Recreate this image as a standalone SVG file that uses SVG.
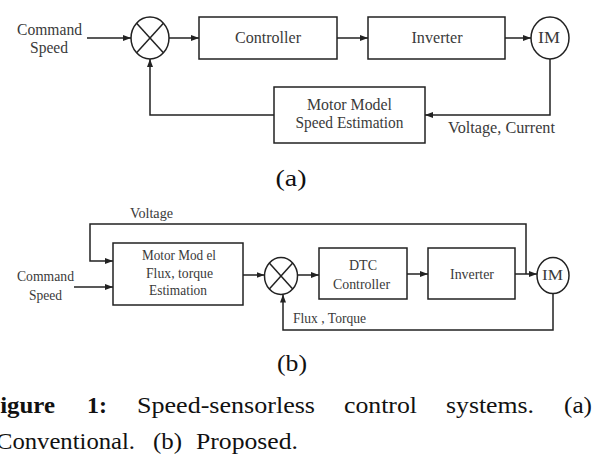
<svg xmlns="http://www.w3.org/2000/svg" width="592" height="458" viewBox="0 0 592 458" font-family="'Liberation Serif', 'Times New Roman', serif">
<defs>
<marker id="arr" markerWidth="9" markerHeight="7" refX="8" refY="3" orient="auto" markerUnits="userSpaceOnUse">
<path d="M0,0 L8,3 L0,6 z" fill="#222"/>
</marker>
<style>
.box{fill:#fff;stroke:#222;stroke-width:1.5}
.ln{fill:none;stroke:#222;stroke-width:1.5}
.wire{fill:none;stroke:#222;stroke-width:1.5;marker-end:url(#arr)}
text{fill:#3a3a3a}
.t1{font-size:16px}
.t2{font-size:14px}
.c{text-anchor:middle}
.cap{font-size:24px;fill:#111}
</style>
</defs>
<rect width="592" height="458" fill="#fff"/>

<!-- (a) conventional -->
<g id="a_cmd">
<text class="t1" x="17" y="35" textLength="65" lengthAdjust="spacingAndGlyphs">Command</text>
<text class="t1" x="30" y="53" textLength="38" lengthAdjust="spacingAndGlyphs">Speed</text>
</g>
<g id="a_sum">
<ellipse class="box" cx="150" cy="38" rx="19" ry="21"/>
<line class="ln" x1="136.6" y1="23.2" x2="163.4" y2="52.8"/>
<line class="ln" x1="163.4" y1="23.2" x2="136.6" y2="52.8"/>
</g>
<g id="a_controller">
<rect class="box" x="199" y="17" width="138" height="42"/>
<text class="t1 c" x="268" y="43" textLength="66" lengthAdjust="spacingAndGlyphs">Controller</text>
</g>
<g id="a_inverter">
<rect class="box" x="368" y="17" width="137" height="42"/>
<text class="t1 c" x="437" y="43" textLength="51" lengthAdjust="spacingAndGlyphs">Inverter</text>
</g>
<g id="a_im">
<ellipse class="box" cx="550" cy="38" rx="19" ry="21"/>
<text class="t1 c" x="549" y="43" textLength="22" lengthAdjust="spacingAndGlyphs">IM</text>
</g>
<g id="a_model">
<rect class="box" x="274" y="87" width="151" height="56"/>
<text class="t1 c" x="349.5" y="110" textLength="85" lengthAdjust="spacingAndGlyphs">Motor Model</text>
<text class="t1 c" x="349.5" y="128" textLength="108" lengthAdjust="spacingAndGlyphs">Speed Estimation</text>
</g>
<g id="a_connectors">
<line class="wire" x1="87" y1="38" x2="131" y2="38"/>
<line class="wire" x1="169" y1="38" x2="199" y2="38"/>
<line class="wire" x1="337" y1="38" x2="368" y2="38"/>
<line class="wire" x1="505" y1="38" x2="531" y2="38"/>
<polyline class="wire" points="550,59 550,115 425,115"/>
<polyline class="wire" points="274,115 150,115 150,59"/>
<text class="t1" x="448" y="133" textLength="107" lengthAdjust="spacingAndGlyphs">Voltage, Current</text>
</g>
<text x="291" y="186" font-size="24" class="c" textLength="31" lengthAdjust="spacingAndGlyphs" style="fill:#111">(a)</text>

<!-- (b) proposed -->
<g id="b_cmd">
<text class="t2" x="17" y="281" textLength="57" lengthAdjust="spacingAndGlyphs">Command</text>
<text class="t2" x="29" y="300" textLength="33" lengthAdjust="spacingAndGlyphs">Speed</text>
</g>
<g id="b_model">
<rect class="box" x="113" y="243" width="130" height="62"/>
<text class="t2 c" x="179" y="260" textLength="74" lengthAdjust="spacingAndGlyphs">Motor Mod el</text>
<text class="t2 c" x="179.5" y="278" textLength="67" lengthAdjust="spacingAndGlyphs">Flux, torque</text>
<text class="t2 c" x="178" y="295" textLength="58" lengthAdjust="spacingAndGlyphs">Estimation</text>
</g>
<g id="b_sum">
<ellipse class="box" cx="281" cy="276" rx="16.5" ry="18.5"/>
<line class="ln" x1="269.3" y1="262.9" x2="292.7" y2="289.1"/>
<line class="ln" x1="292.7" y1="262.9" x2="269.3" y2="289.1"/>
</g>
<g id="b_dtc">
<rect class="box" x="319" y="248" width="88" height="51"/>
<text class="t2 c" x="363" y="270" textLength="28" lengthAdjust="spacingAndGlyphs">DTC</text>
<text class="t2 c" x="361.5" y="289" textLength="57" lengthAdjust="spacingAndGlyphs">Controller</text>
</g>
<g id="b_inverter">
<rect class="box" x="428" y="248" width="87" height="51"/>
<text class="t2 c" x="472" y="279" textLength="44" lengthAdjust="spacingAndGlyphs">Inverter</text>
</g>
<g id="b_im">
<ellipse class="box" cx="553" cy="275.5" rx="16" ry="18"/>
<text class="t2 c" x="552.5" y="280" textLength="21" lengthAdjust="spacingAndGlyphs">IM</text>
</g>
<g id="b_connectors">
<line class="wire" x1="74" y1="287" x2="113" y2="287"/>
<polyline class="wire" points="526,274 526,224 90,224 90,261 113,261"/>
<line class="wire" x1="243" y1="275" x2="264.5" y2="275"/>
<line class="wire" x1="297.5" y1="275" x2="319" y2="275"/>
<line class="wire" x1="407" y1="274" x2="428" y2="274"/>
<line class="wire" x1="515" y1="274" x2="537" y2="274"/>
<polyline class="wire" points="553,293.5 553,330 283,330 283,294.5"/>
<text class="t2" x="130" y="218" textLength="43" lengthAdjust="spacingAndGlyphs">Voltage</text>
<text class="t2" x="293" y="323" textLength="73" lengthAdjust="spacingAndGlyphs">Flux , Torque</text>
</g>
<text x="292" y="371" font-size="24" class="c" textLength="30" lengthAdjust="spacingAndGlyphs" style="fill:#111">(b)</text>

<!-- caption -->
<g id="caption">
<text class="cap" x="-15" y="413" font-weight="bold" textLength="70" lengthAdjust="spacingAndGlyphs">Figure</text>
<text class="cap" x="87" y="413" font-weight="bold" textLength="20" lengthAdjust="spacingAndGlyphs">1:</text>
<text class="cap" x="137" y="413" textLength="178" lengthAdjust="spacingAndGlyphs">Speed-sensorless</text>
<text class="cap" x="344" y="413" textLength="73" lengthAdjust="spacingAndGlyphs">control</text>
<text class="cap" x="446" y="413" textLength="88" lengthAdjust="spacingAndGlyphs">systems.</text>
<text class="cap" x="564" y="413" textLength="28" lengthAdjust="spacingAndGlyphs">(a)</text>
<text class="cap" x="-4" y="449" textLength="139" lengthAdjust="spacingAndGlyphs">Conventional.</text>
<text class="cap" x="153" y="449" textLength="29" lengthAdjust="spacingAndGlyphs">(b)</text>
<text class="cap" x="196" y="449" textLength="102" lengthAdjust="spacingAndGlyphs">Proposed.</text>
</g>
</svg>
